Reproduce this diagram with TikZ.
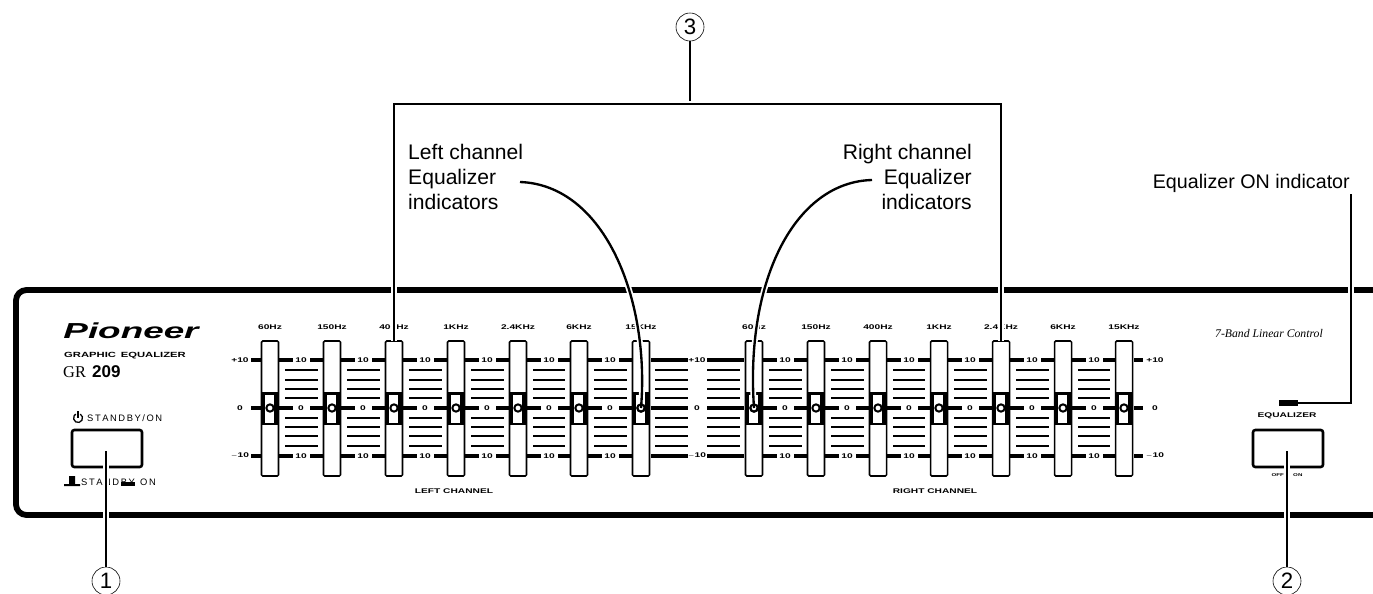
\documentclass[tikz,border=0pt]{standalone}
\usepackage{fontspec}
\usepackage{xcolor}
\setmainfont{Liberation Sans}
\newfontfamily\widefont[FakeStretch=1.5]{Liberation Sans}
\newfontfamily\logofont[FakeStretch=1.7]{Liberation Sans}
\newfontfamily\capsfont{Liberation Serif}
\usetikzlibrary{positioning}
\tikzset{
  sliderbox/.style={rectangle,draw,fill=white,line width=1.3pt,rounded corners=1pt,minimum width=0.51cm,minimum height=4.05cm,inner sep=0pt,outer sep=0pt},
  knobled/.style={circle,draw,fill=white,line width=1.7pt,minimum size=0.22cm,inner sep=0pt},
  tinylabel/.style={font=\widefont\bfseries\fontsize{5.8}{6}\selectfont,inner sep=0pt},
  callout/.style={font=\fontsize{18}{21.3}\selectfont,inner sep=0pt},
  numcircle/.style={circle,draw,line width=0.5pt,minimum size=0.84cm,inner sep=0pt,font=\fontsize{19}{19}\selectfont,fill=white},
  panelbutton/.style={rectangle,draw,line width=2.2pt,rounded corners=2pt,minimum width=2.1cm,minimum height=1.11cm,inner sep=0pt},
  leader/.style={line width=2pt,preaction={draw=white,line width=5pt}},
  majorline/.style={line width=3.4pt},
  minorline/.style={line width=1.6pt},
}
\begin{document}
\begin{tikzpicture}[x=0.03cm,y=-0.03cm]
    \useasboundingbox (0,0) rectangle (1373,594);

    % Front panel
    \draw[line width=5pt,rounded corners=9pt] (1373,290) -- (16,290) -- (16,515) -- (1373,515);

    % Level lines between the sliders
    \foreach \c/\d in {270/332,332/394,394/456,456/518,518/579,579/641,754/816,816/878,878/939,939/1001,1001/1063,1063/1124}{
        \foreach \y/\t in {360/10,408/0,456/10}{
            \draw[majorline] (\c+9,\y) -- (\c+23,\y);
            \draw[majorline] (\c+40,\y) -- (\d-9,\y);
            \node[tinylabel] (lv\c-\y) at (\c+31,\y) {\t};
        }
        \foreach \y in {370,380,389,398,418,427,436,446}
            \draw[minorline] (\c+15,\y) -- (\d-14,\y);
    }
    % Middle gap
    \foreach \y/\t in {360/+10,408/0,456/$-$10}{
        \draw[majorline] (651,\y) -- (688,\y);
        \draw[majorline] (707,\y) -- (744,\y);
        \node[tinylabel] (mid\y) at (697,\y) {\t};
        \draw[majorline] (251,\y) -- (261,\y);
        \node[tinylabel] (lft\y) at (240,\y) {\t};
        \draw[majorline] (1134,\y) -- (1143,\y);
        \node[tinylabel] (rgt\y) at (1155,\y) {\t};
    }
    \foreach \y in {370,380,389,398,418,427,436,446}{
        \draw[minorline] (655,\y) -- (688,\y);
        \draw[minorline] (707,\y) -- (740,\y);
    }

    % Sliders
    \foreach \c/\t [count=\i] in {270/60Hz,332/150Hz,394/400Hz,456/1KHz,518/2.4KHz,579/6KHz,641/15KHz,754/60Hz,816/150Hz,878/400Hz,939/1KHz,1001/2.4KHz,1063/6KHz,1124/15KHz}{
        \node[sliderbox] (slider\i) at (\c,408.5) {};
        \fill (\c-8.5,392) rectangle (\c+8.5,425);
        \fill[white] (\c-5,394.5) rectangle (\c+4,422.5);
        \node[knobled] (led\i) at (\c,408) {};
        \node[tinylabel] (freq\i) at (\c,327) {\t};
    }
    \node[tinylabel] (leftch) at (454,491) {LEFT CHANNEL};
    \node[tinylabel] (rightch) at (935,491) {RIGHT  CHANNEL};

    % Left side
    \node[inner sep=0pt,font=\logofont\bfseries\itshape\fontsize{18.5}{20}\selectfont] (logo) at (131,331) {Pioneer};
    \node[inner sep=0pt,anchor=west,font=\widefont\bfseries\fontsize{6.4}{7}\selectfont] (model) at (64,356) {GRAPHIC\hspace{4pt}EQUALIZER};
    \node[inner sep=0pt,anchor=west,font=\capsfont\fontsize{14}{14}\selectfont] (gr) at (63,372) {GR};
    \node[inner sep=0pt,anchor=west,font=\bfseries\fontsize{14.5}{15}\selectfont] (num209) at (92,372) {209};
    \draw[line width=1.1pt] (80.3,414.1) arc[start angle=-60,end angle=240,radius=4.5];
    \draw[line width=1.1pt] (78,411) -- (78,418);
    \node[inner sep=0pt,anchor=west,font=\fontsize{8}{8}\selectfont] (standby) at (87,418) {S\,T\,A\,N\,D\,B\,Y\,/\,O\,N};
    \node[panelbutton] (btnleft) at (107,448.5) {};
    \fill (64,484) rectangle (80,486) (69,476) rectangle (75,484);
    \node[inner sep=0pt,anchor=west,font=\fontsize{8}{8}\selectfont] (standbyb) at (81,482) {S\,T\,A\,N\,D\,B\,Y};
    \fill (121,482) rectangle (135,486);
    \node[inner sep=0pt,anchor=west,font=\fontsize{8}{8}\selectfont] (onb) at (140,482) {O\,N};

    % Right side
    \node[inner sep=0pt,font=\capsfont\itshape\fontsize{10}{10}\selectfont] (band) at (1269,333) {7-Band Linear Control};
    \node[rectangle,fill=black,minimum width=0.57cm,minimum height=0.17cm,inner sep=0pt] (onled) at (1288,403) {};
    \node[tinylabel] (eqname) at (1287,416) {EQUALIZER};
    \node[panelbutton] (btnright) at (1288,448.5) {};
    \node[inner sep=0pt,font=\widefont\bfseries\fontsize{3.5}{4}\selectfont] (offon) at (1287,475) {OFF\hspace{8pt}ON};

    % Call-outs
    \node[numcircle] (num1) at (106,581) {1};
    \node[numcircle] (num2) at (1287,581) {2};
    \node[numcircle] (num3) at (690,27) {3};
    \coordinate (tip1) at (106,451);
    \coordinate (tip2) at (1287,451);
    \draw[leader] (num1) -- (tip1);
    \draw[leader] (num2) -- (tip2);

    \coordinate (bracket) at (690,104);
    \draw[line width=2pt] (num3) -- (bracket);
    \draw[leader,line cap=butt] (slider3.north) -- (slider3.north |- bracket) -- (slider12.north |- bracket) -- (slider12.north);

    \node[callout,align=left,anchor=north west] (lefteq) at (408,144) {Left channel\\Equalizer\\indicators};
    \node[callout,align=right,anchor=north east] (righteq) at (972,144) {Right channel\\Equalizer\\indicators};
    \coordinate (leftstart) at (520,182);
    \coordinate (rightstart) at (872,180);
    \draw[leader] (leftstart) .. controls (605,185) and (650,300) .. (led7.center);
    \draw[leader] (rightstart) .. controls (795,182) and (745,280) .. (led8.center);
    \node[knobled,fill=none] (led7b) at (led7) {};
    \node[knobled,fill=none] (led8b) at (led8) {};

    \node[callout,anchor=east,font=\fontsize{16.8}{20}\selectfont] (onlabel) at (1350,183) {Equalizer ON indicator};
    \coordinate (onbend) at (1351,403);
    \coordinate (ontop) at (1351,194);
    \draw[leader] (ontop) -- (onbend) -- (onled);
\end{tikzpicture}
\end{document}
